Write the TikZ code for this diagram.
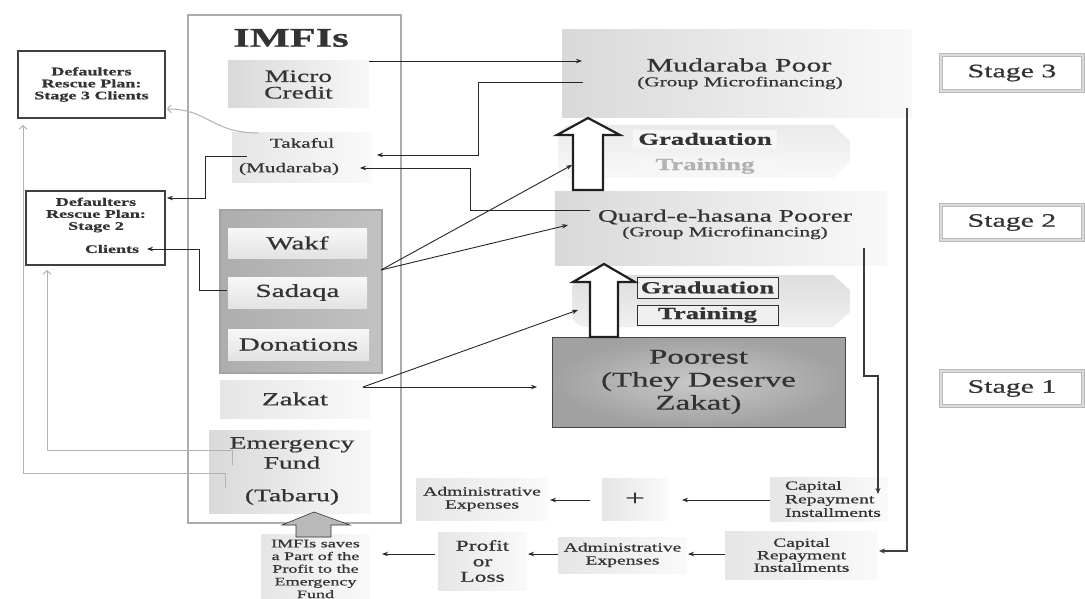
\documentclass[tikz,border=0pt]{standalone}
\usepackage{fontspec}
\setmainfont[FakeStretch=1.57,FakeBold=0.7]{Liberation Serif}
\usetikzlibrary{arrows.meta}
\newcommand\fsz[2]{\fontsize{#1}{#2}\selectfont}
\begin{document}
\begin{tikzpicture}[x=1pt,y=-1pt,
  every node/.style={inner sep=0pt, outer sep=0pt, text=black!80, align=center},
  frame/.style={draw=gray!65, line width=1.3pt},
  softbox/.style={left color=gray!30, right color=gray!5},
  lightbox/.style={left color=gray!20, right color=gray!4},
  innerbox/.style={top color=gray!6, bottom color=gray!22},
  groupbox/.style={left color=gray!64, right color=gray!48, draw=gray!72, line width=1.2pt},
  darkbox/.style={inner color=gray!42, outer color=gray!74, draw=gray!55!black, line width=0.8pt},
  planbox/.style={draw=gray!50!black, line width=2pt, fill=white},
  stagebox/.style={draw=gray!55, double=gray!28, double distance=2pt, line width=1.1pt, fill=white},
  gradbox/.style={fill=gray!7, font=\bfseries\fsz{17}{17}},
  gradboxB/.style={fill=gray!12, draw=gray!40!black, line width=0.8pt, font=\bfseries\fsz{17}{17}},
  arr/.style={-{Stealth[length=6pt,width=4.5pt]}, line width=0.9pt, draw=black!85},
  darr/.style={-{Stealth[length=6pt,width=5pt]}, line width=1.3pt, draw=black!75},
  garr/.style={-{Straight Barb[length=3.5pt,width=8pt]}, line width=1pt, draw=gray!60},
  hollow/.style={fill=white, draw=gray!25!black, line width=2.2pt, line join=miter},
  blockarrow/.style={fill=gray!55, draw=gray!40!black, line width=0.6pt}
]
\useasboundingbox (0,0) rectangle (1085,599);
\fill[white] (0,0) rectangle (1085,599);

% ---------- IMFIs column ----------
\node[frame, minimum width=213, minimum height=508] (imfi) at (294.5,269) {};
\node[font=\bfseries\fsz{27}{27}] (imfititle) at (291,38) {IMFIs};
\node[softbox, minimum width=141, minimum height=47, font=\fsz{17.5}{16.5}] (micro) at (298.5,84.5) {Micro\\Credit};
\node[lightbox, minimum width=140, minimum height=50] (takaful) at (302,158) {};
\node[font=\fsz{13.5}{14}] (takafulA) at (302,143) {Takaful};
\node[font=\fsz{13.5}{14}] (takafulB) at (289,169) {(Mudaraba)};
\node[groupbox, minimum width=162, minimum height=163] (group) at (301,291.5) {};
\node[innerbox, minimum width=139, minimum height=30, font=\fsz{18.5}{18}] (wakf) at (297.5,243) {Wakf};
\node[innerbox, minimum width=139, minimum height=31, font=\fsz{18.5}{18}] (sadaqa) at (297.5,292.5) {Sadaqa};
\node[innerbox, minimum width=141, minimum height=31, font=\fsz{18.5}{18}] (donations) at (298.5,344.5) {Donations};
\node[lightbox, minimum width=150, minimum height=38, font=\fsz{18.5}{18}] (zakat) at (295,399) {Zakat};
\node[softbox, minimum width=162, minimum height=83] (emergency) at (290,471.5) {};
\node[font=\fsz{17.5}{20}] (emergA) at (292,453) {Emergency\\Fund};
\node[font=\fsz{17.5}{20}] (emergB) at (292,497) {(Tabaru)};
\node[lightbox, minimum width=109, minimum height=72] (saves) at (315.5,570) {};
\node[font=\fsz{11.5}{12.7}] (savestxt) at (315.5,569) {IMFIs saves\\a Part of the\\Profit to the\\Emergency\\Fund};

% ---------- rescue plans ----------
\node[planbox, minimum width=147, minimum height=67, font=\bfseries\fsz{11.5}{12}] (def3) at (91.5,84.5) {Defaulters\\Rescue Plan:\\Stage 3 Clients};
\node[planbox, minimum width=139, minimum height=74] (def2) at (95.5,228) {};
\node[font=\bfseries\fsz{11.5}{12}] (def2txt) at (96,215) {Defaulters\\Rescue Plan:\\Stage 2};
\node[font=\bfseries\fsz{11.5}{12}] (clients) at (112,249) {Clients};

% ---------- stages of clients ----------
\node[softbox, minimum width=350, minimum height=88] (mudaraba) at (737,74) {};
\node[font=\fsz{19}{19}] (mudA) at (739,65) {Mudaraba Poor};
\node[font=\fsz{13.5}{14}] (mudB) at (740,83) {(Group Microfinancing)};

\shade[top color=gray!16, bottom color=gray!5]
  (700,125) -- (833,125) -- (850,141) -- (850,162) -- (833,178) -- (700,178)
  [rounded corners=14] -- (558,178) -- (558,125) [sharp corners] -- cycle;
\node[gradbox, minimum width=144, minimum height=18] (grad1) at (705,139) {Graduation};
\node[gradbox, minimum width=144, minimum height=18, text=gray!60] (train1) at (705,166) {Training};

\node[softbox, minimum width=332, minimum height=73] (quard) at (721,228.5) {};
\node[font=\fsz{17.5}{18}] (quardA) at (725,217) {Quard-e-hasana Poorer};
\node[font=\fsz{13.5}{14}] (quardB) at (725,233) {(Group Microfinancing)};

\shade[top color=gray!26, bottom color=gray!12]
  (700,275) -- (833,275) -- (850,290) -- (850,312) -- (833,327) -- (700,327)
  [rounded corners=14] -- (572,327) -- (572,275) [sharp corners] -- cycle;
\node[gradboxB, minimum width=141, minimum height=21] (grad2) at (707.5,287.5) {Graduation};
\node[gradboxB, minimum width=141, minimum height=20] (train2) at (707.5,315) {Training};

\node[darkbox, minimum width=293, minimum height=90, font=\fsz{21}{23}] (poorest) at (698.5,382) {Poorest\\(They Deserve\\Zakat)};

% graduation arrows
\draw[hollow] (573,190) -- (573,135) -- (557,135) -- (588,118) -- (620,135) -- (603,135) -- (603,190) -- cycle;
\draw[hollow] (590,337) -- (590,282) -- (573,282) -- (604,264) -- (635,282) -- (618,282) -- (618,337) -- cycle;

% stage labels
\node[stagebox, minimum width=142, minimum height=36, font=\fsz{19}{19}] (stage3) at (1012,73) {Stage 3};
\node[stagebox, minimum width=142, minimum height=35, font=\fsz{19}{19}] (stage2) at (1012,222.5) {Stage 2};
\node[stagebox, minimum width=142, minimum height=35, font=\fsz{19}{19}] (stage1) at (1012,388.5) {Stage 1};

% ---------- repayment flow ----------
\node[lightbox, minimum width=132, minimum height=42, font=\fsz{12.5}{13}] (admin1) at (482,499) {Administrative\\Expenses};
\node[lightbox, minimum width=66, minimum height=42, font=\fsz{22}{22}] (plus) at (635,499) {+};
\node[lightbox, minimum width=118, minimum height=44] (cap1) at (829,499) {};
\node[font=\fsz{12.5}{13.5}, anchor=west, align=left] (cap1txt) at (785,499) {Capital\\Repayment\\Installments};
\node[lightbox, minimum width=89, minimum height=58, font=\fsz{15}{15.5}] (profit) at (482.5,561) {Profit\\or\\Loss};
\node[lightbox, minimum width=129, minimum height=36, font=\fsz{12.5}{13}] (admin2) at (622.5,555) {Administrative\\Expenses};
\node[lightbox, minimum width=153, minimum height=48, font=\fsz{12.5}{12.5}] (cap2) at (801.5,555) {Capital\\Repayment\\Installments};

% ---------- connector end points ----------
\coordinate (mudIn) at (582,61);
\coordinate (mudOut) at (583,82);
\coordinate (takIn) at (377,155);
\coordinate (quardOut) at (590,210);
\coordinate (takIn2) at (360,168);
\coordinate (groupOut) at (381,270);
\coordinate (ban1In) at (572,165);
\coordinate (quardIn) at (568,225);
\coordinate (zakOut) at (363,387);
\coordinate (ban2In) at (578,310);
\coordinate (poorIn) at (537,387);
\coordinate (takTop) at (258,133);
\coordinate (def3In) at (167,109);
\coordinate (takLeft) at (247,156);
\coordinate (def2In) at (167,198);
\coordinate (sadLeft) at (227,290);
\coordinate (cliIn) at (147,249);
\coordinate (emA) at (225,488);
\coordinate (emB) at (232,465);
\coordinate (def3Low) at (23,125);
\coordinate (def2Low) at (47,270);
\coordinate (mudDown) at (907,108);
\coordinate (cap2In) at (879,551);
\coordinate (quardDown) at (864,248);
\coordinate (cap1In) at (878,494);
\coordinate (plusIn) at (682,500);
\coordinate (plusOut) at (590,500);
\coordinate (admin1In) at (550,500);
\coordinate (admin2In) at (688,554);
\coordinate (profitIn) at (528,554);
\coordinate (profitOut) at (435,554);
\coordinate (savesIn) at (382,554);

% ---------- connectors ----------
\draw[arr] (micro.north east) -- (mudIn);
\draw[arr] (mudOut) -- (478,82) -- (478,155) -- (takIn);
\draw[arr] (quardOut) -- (470,210) -- (470,168) -- (takIn2);
\draw[arr] (groupOut) -- (ban1In);
\draw[arr] (groupOut) -- (quardIn);
\draw[arr] (zakOut) -- (ban2In);
\draw[arr] (zakOut) -- (poorIn);
\draw[garr] (takTop) .. controls (212,133) and (208,109) .. (def3In);
\draw[arr] (takLeft) -- (205,156) -- (205,198) -- (def2In);
\draw[arr] (sadLeft) -- (199,290) -- (199,249) -- (cliIn);
\draw[garr] (emA) -- (225,473) -- (23,473) -- (def3Low);
\draw[garr] (emB) -- (232,450) -- (47,450) -- (def2Low);
\draw[darr] (mudDown) -- (907,551) -- (cap2In);
\draw[darr, draw=gray!45!black] (quardDown) -- (864,376) -- (878,376) -- (cap1In);
\draw[arr] (cap1.west |- plusIn) -- (plusIn);
\draw[arr] (plusOut) -- (admin1In);
\draw[arr] (cap2.west |- admin2In) -- (admin2In);
\draw[arr] (admin2.west |- profitIn) -- (profitIn);
\draw[arr] (profitOut) -- (savesIn);

% part of the profit flows up into the emergency fund
\draw[blockarrow] (296,537) -- (296,525) -- (282,525) -- (314,512) -- (350,525) -- (331,525) -- (331,537) -- cycle;
\end{tikzpicture}
\end{document}
